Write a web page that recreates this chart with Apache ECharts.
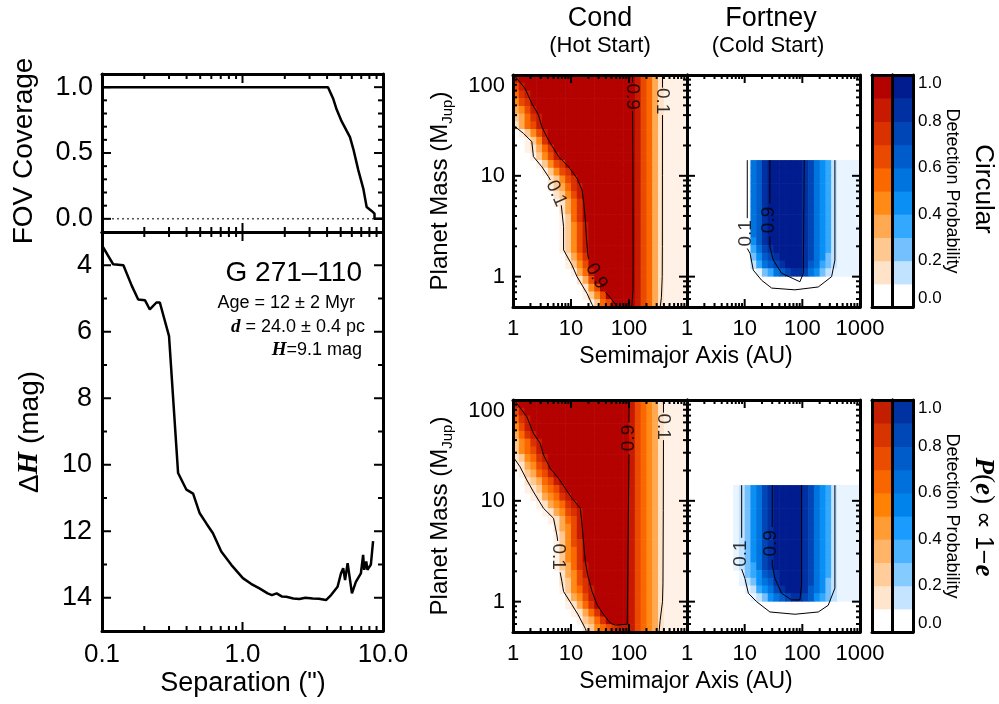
<!DOCTYPE html>
<html>
<head>
<meta charset="utf-8">
<script src="https://cdn.jsdelivr.net/npm/echarts@6/dist/echarts.min.js"></script>
<style>
  html, body { margin: 0; padding: 0; background: #fff; }
  #chart { width: 999px; height: 704px; }
</style>
</head>
<body>
<div id="chart"></div>
<script>
const SANS = '"Liberation Sans", Helvetica, Arial, sans-serif';
const SERIF = '"Liberation Serif", "Times New Roman", serif';

// ---------- Left column: field-of-view coverage and contrast curve ----------
const fovSeparation = [0.10, 4.06, 4.43, 4.68, 5.08, 5.82, 6.15, 6.67, 7.24, 7.65, 8.30, 8.70, 8.70, 10.0];
const fovCoverage   = [1.00, 1.00, 0.91, 0.83, 0.74, 0.62, 0.53, 0.37, 0.23, 0.09, 0.06, 0.04, 0.00, 0.00];

const contrastSeparation = [0.100, 0.120, 0.142, 0.163, 0.181, 0.202, 0.219, 0.244, 0.258, 0.300,
  0.348, 0.399, 0.445, 0.496, 0.556, 0.616, 0.706, 0.832, 1.006, 1.15, 1.32, 1.51, 1.62, 1.75, 1.90,
  2.05, 2.30, 2.54, 2.80, 3.16, 3.50, 3.93, 4.27, 4.75, 5.02, 5.21, 5.37, 5.60, 6.01, 6.41, 6.96,
  7.22, 7.35, 7.60, 7.75, 8.20, 8.50];
const contrastDeltaH = [3.40, 3.97, 4.00, 4.62, 5.03, 5.05, 5.33, 5.12, 5.12, 6.13,
  10.25, 10.75, 10.87, 11.46, 11.78, 12.06, 12.61, 13.01, 13.41, 13.58, 13.72, 13.87, 13.92, 13.87, 13.96,
  13.97, 14.02, 14.04, 14.00, 14.02, 14.03, 14.07, 13.92, 13.67, 13.27, 13.11, 13.47, 12.96, 13.87, 13.52, 13.27,
  12.71, 13.16, 12.91, 13.16, 13.00, 12.30];

const separationLabels = [0.1, 1, 10];
const separationMinorTicks = [0.2, 0.3, 0.4, 0.5, 0.6, 0.7, 0.8, 0.9, 2, 3, 4, 5, 6, 7, 8, 9];
const coverageLabels = [0, 0.5, 1];
const coverageMinorTicks = [0.1, 0.2, 0.3, 0.4, 0.6, 0.7, 0.8, 0.9];
const deltaHLabels = [4, 6, 8, 10, 12, 14];
const deltaHMinorTicks = [5, 7, 9, 11, 13];

// ---------- Right block: detection-probability maps ----------
// bin edges of the (semimajor axis, planet mass) grid
const semimajorEdgesAU = [1, 1.259, 1.585, 1.995, 2.512, 3.162, 3.981, 5.012, 6.310, 7.943,
  10, 12.59, 15.85, 19.95, 25.12, 31.62, 39.81, 50.12, 63.10, 79.43,
  100, 125.9, 158.5, 199.5, 251.2, 316.2, 398.1, 501.2, 631.0, 794.3, 1000];
const massEdgesMJup = [0.500, 0.597, 0.712, 0.849, 1.014, 1.209, 1.443, 1.722, 2.055, 2.452,
  2.925, 3.491, 4.165, 4.970, 5.930, 7.071, 8.437, 10.07, 12.01, 14.33,
  17.10, 20.41, 24.35, 29.05, 34.67, 41.36, 49.34, 58.87, 70.25, 83.82, 100];

const semimajorLabelsCond = [1, 10, 100];
const semimajorLabelsFortney = [1, 10, 100, 1000];
const semimajorMinorTicks = [2, 3, 4, 5, 6, 7, 8, 9, 20, 30, 40, 50, 60, 70, 80, 90, 200, 300, 400, 500, 600, 700, 800, 900];
const massLabels = [1, 10, 100];
const massMinorTicks = [0.6, 0.7, 0.8, 0.9, 2, 3, 4, 5, 6, 7, 8, 9, 20, 30, 40, 50, 60, 70, 80, 90];

// One string per mass bin (top row = highest mass), one character per semimajor-axis bin.
// '.' = no detection / no model, '0' = below 10 %, digit d = probability between d/10 and (d+1)/10.
// '|' only separates groups for readability.
const condCircular = [
  '8|99999|99999|99999|99999|865310000',
  '68|99999|99999|99999|9999|865310000',
  '578|99999|99999|99999|999|865310000',
  '467|99999|99999|99999|999|865310000',
  '3468|99999|99999|99999|99|865310000',
  '23578|99999|99999|99999|9|865310000',
  '13568|99999|99999|99999|9|865310000',
  '.02468|99999|99999|99999|865310000',
  '..0247|99999|99999|99999|865310000',
  '..01357|99999|99999|9999|865310000',
  '...02468|99999|99999|999|865310000',
  '....02467|99999|99999|99|865310000',
  '.....02467|99999|99999|9|865310000',
  '......12467|99999|99999|865310000',
  '......023578|99999|9999|865310000',
  '.......12468|99999|9999|865310000',
  '.......01357|99999|9999|865310000',
  '........1357|99999|9999|865310000',
  '........0257|99999|9999|865310000',
  '........02468|99999|999|865310000',
  '........02468|99999|999|865310000',
  '........02468|99999|999|865310000',
  '........02468|99999|999|865310000',
  '.........1357|99999|999|865310000',
  '.........0246|99999|999|865310000',
  '..........0358|99999|99|865310000',
  '...........136|99999|99|865310000',
  '............146|99999|9|865310000',
  '............0246|99999|865310000',
  '.............0256|9999|865310000'
];
const fortneyCircular = [
  '', '', '', '', '', '', '', '', '', '', '',
  '...........|56899|99998|75431|0000',
  '...........|56899|99998|75431|0000',
  '...........|56899|99998|75431|0000',
  '...........|56899|99998|75431|0000',
  '...........|56899|99998|75431|0000',
  '...........|56899|99998|75431|0000',
  '...........|56899|99998|75431|0000',
  '...........|56899|99998|75431|0000',
  '...........|56899|99998|75431|0000',
  '...........|56899|99998|75431|0000',
  '...........|46899|99998|75431|0000',
  '...........|35789|99998|75431|0000',
  '...........|24678|99998|75421|0000',
  '...........|13567|89998|65321|0000',
  '............|02356|78875|42100|000',
  '', '', ''
];
const condEccentric = [
  '8|99999|99999|99999|999|98654310000',
  '68|99999|99999|99999|99|98654310000',
  '578|99999|99999|99999|9|98654310000',
  '468|99999|99999|99999|9|98654310000',
  '3578|99999|99999|99999|98654310000',
  '24578|99999|99999|9999|98654310000',
  '24568|99999|99999|9999|98654310000',
  '124578|99999|99999|999|98654310000',
  '013467|99999|99999|999|98654310000',
  '.023568|99999|99999|99|98654310000',
  '..123568|99999|99999|9|98654310000',
  '..0124568|99999|99999|98654310000',
  '...0134578|99999|9999|98654310000',
  '....0134578|99999|999|98654310000',
  '.....0134678|99999|99|98654310000',
  '......013568|99999|99|98654310000',
  '.......13468|99999|99|98654310000',
  '.......02468|99999|99|98654310000',
  '.......02467|99999|99|98654310000',
  '.......02457|99999|99|98654310000',
  '.......02457|99999|99|98654310000',
  '.......023578|99999|9|98654310000',
  '........13468|99999|9|98654310000',
  '........12467|99999|9|98654310000',
  '........024578|99999|98654310000',
  '.........13468|99999|98654310000',
  '.........01357|99999|98654310000',
  '..........01357|9999|98654310000',
  '...........02357|999|98654310000',
  '............1245678|88654310000'
];
const fortneyEccentric = [
  '', '', '', '', '', '', '', '', '', '', '',
  '........|01245|78999|99875|43100|00',
  '........|01245|78999|99875|43100|00',
  '........|01245|78999|99875|43100|00',
  '........|01245|78999|99875|43100|00',
  '........|01245|78999|99875|43100|00',
  '........|01245|78999|99875|43100|00',
  '........|01245|78999|99875|43100|00',
  '........|01245|78999|99875|43100|00',
  '........|01245|78999|99875|43100|00',
  '........|01245|78999|99875|43100|00',
  '........|01235|78999|99875|43100|00',
  '.........|02346|78999|98754|31000|0',
  '.........|01245|68999|98754|21000|0',
  '..........|01345|78999|86542|10000',
  '...........|01245|67887|64321|0000',
  '', '', ''
];

// Contours: [semimajor axis (AU), mass (MJup)] points; a gap is left where the label sits.
const condCircularContours = [
  { level: '0.9', label: [27.4, 1.01], rotate: -61, segments: [
    [[1.05, 100], [1.16, 92.7], [1.61, 73.8], [2.11, 52.4], [2.75, 40.1], [3.14, 30.7], [4.09, 22.6], [6.10, 15.5],
     [9.09, 12.3], [12.7, 9.44], [15.5, 7.23], [16.6, 5.33], [17.7, 3.65], [18.4, 2.49], [19.4, 1.70], [20.0, 1.50]],
    [[39.3, 0.70], [42.1, 0.68], [51.3, 0.586], [58.6, 0.53], [63.0, 0.50]] ] },
  { level: '0.1', label: [5.56, 6.7], rotate: -66, segments: [
    [[1.0, 31.9], [1.51, 26.4], [2.11, 21.8], [2.25, 15.5], [3.14, 12.3], [4.09, 9.80], [4.4, 9.1]],
    [[6.8, 5.1], [6.98, 4.93], [7.45, 3.13], [7.45, 1.84], [10.4, 1.30], [12.7, 1.0], [18.9, 0.68], [23.1, 0.53], [24.5, 0.50]] ] },
  { level: '0.9', label: [115, 61], rotate: -90, segments: [
    [[115, 100], [115, 84]],
    [[115, 44], [116, 20], [117, 5], [118, 1.5], [117, 0.75], [112, 0.50]] ] },
  { level: '0.1', label: [378, 55], rotate: -90, segments: [
    [[378, 100], [378, 75]],
    [[378, 40], [377, 10], [376, 2], [374, 1.0], [362, 0.62], [345, 0.50]] ] }
];
const fortneyCircularContours = [
  { level: '0.1', label: [10.5, 2.69], rotate: 90, segments: [
    [[11.1, 14.3], [11.1, 3.8]],
    [[11.1, 1.9], [12.4, 1.70], [14.1, 1.16], [19.7, 0.92], [29.4, 0.77], [74.5, 0.74], [189, 0.79], [322, 1.0], [367, 1.46], [367, 14.3]] ] },
  { level: '0.9', label: [26.0, 3.65], rotate: 90, segments: [
    [[27.4, 14.3], [27.4, 5.3]],
    [[27.4, 2.5], [27.4, 1.98], [31.3, 1.46], [43.8, 1.08], [90.8, 0.89], [104, 1.08], [108, 14.3]] ] }
];
const condEccentricContours = [
  { level: '0.9', label: [100, 42], rotate: 90, segments: [
    [[1.05, 100], [1.16, 92.7], [1.73, 68.4], [2.25, 46.7], [2.94, 37.2], [3.36, 28.5], [4.38, 21.0], [6.10, 16.7],
     [7.96, 13.3], [10.4, 10.6], [14.5, 8.43], [15.5, 5.77], [16.6, 3.65], [17.7, 2.49], [19.4, 1.84], [23.1, 1.26],
     [28.2, 0.93], [36.8, 0.74], [48.0, 0.61], [58.6, 0.586], [93.3, 0.596], [100, 0.60], [100, 29]],
    [[100, 60], [100, 100]] ] },
  { level: '0.1', label: [6.1, 2.79], rotate: -90, segments: [
    [[1.0, 27.4], [1.32, 21.8], [1.73, 16.1], [2.25, 12.3], [3.36, 8.43], [5.0, 6.71], [5.71, 4.58], [5.9, 4.0]],
    [[6.5, 1.95], [6.97, 1.58], [7.45, 1.26], [10.4, 0.93], [13.3, 0.74], [17.7, 0.54], [18.5, 0.50]] ] },
  { level: '0.1', label: [393, 54.4], rotate: -90, segments: [
    [[393, 100], [393, 75]],
    [[393, 40], [390, 8], [385, 1.5], [378, 1.0], [344, 0.65], [330, 0.50]] ] }
];
const fortneyEccentricContours = [
  { level: '0.1', label: [8.5, 3.0], rotate: 90, segments: [
    [[8.87, 14.3], [8.87, 4.3]],
    [[8.87, 2.1], [10.1, 1.70], [11.6, 1.21], [16.1, 1.0], [27.4, 0.79], [74.5, 0.75], [189, 0.79], [281, 0.92], [367, 1.36], [367, 14.3]] ] },
  { level: '0.9', label: [28.0, 3.79], rotate: 90, segments: [
    [[30.1, 14.3], [30.1, 5.5]],
    [[30.1, 2.6], [30.1, 2.31], [33.5, 1.70], [43.8, 1.21], [65.2, 1.04], [90.8, 1.04], [97.2, 1.46], [97.2, 14.3]] ] }
];

// colour bar
const probabilityEdges = [0, 0.1, 0.2, 0.3, 0.4, 0.5, 0.6, 0.7, 0.8, 0.9, 1.0];
const probabilityLabels = [0, 0.2, 0.4, 0.6, 0.8, 1.0];

// ---------- styles ----------
const redBands = ['#ffffff', '#ffe3c8', '#ffc891', '#ffaa52', '#ff8a16', '#fb6800', '#ea4a00', '#d93200', '#c71a00', '#b30200'];
const blueBands = ['#ffffff', '#c2e3ff', '#74c0ff', '#33a8ff', '#0a90f5', '#0074de', '#005ccb', '#0046b6', '#0030a2', '#001c8e'];
const redBandsLower = ['#ffffff', '#ffe5cc', '#ffcc9a', '#ffb468', '#ff9c34', '#ff8204', '#f96600', '#ea4c00', '#d83400', '#c41e00'];
const blueBandsLower = ['#ffffff', '#c4e4ff', '#84ccff', '#4cb4ff', '#1a9cff', '#0084ec', '#0070dc', '#005cc9', '#0048b8', '#0032a2'];
const redCells = ['#fff1e6'].concat(redBands.slice(1));
const blueCells = ['#e8f4ff'].concat(blueBands.slice(1));

// ---------- builders ----------
const grids = [], xAxes = [], yAxes = [], series = [];

const AXIS_LINE = { show: true, onZero: false, lineStyle: { color: '#000', width: 3 } };
function axisBase(gi) {
  return { gridIndex: gi, z: 5, axisLine: AXIS_LINE, axisTick: { show: false },
    splitLine: { show: false }, minorTick: { show: false }, minorSplitLine: { show: false } };
}
function labelSpec(s) {
  if (!s || !s.labels) return { show: false };
  return Object.assign({ show: true, customValues: s.labels, color: '#000', fontFamily: SANS,
    fontSize: s.fontSize, margin: s.margin, formatter: s.formatter }, s.extra || {});
}
// A boxed panel: bottom/top x axes and left/right y axes, labels where requested.
function panel(rect, xs, ys) {
  const gi = grids.length;
  grids.push(Object.assign({ containLabel: false }, rect));
  const xi = xAxes.length, yi = yAxes.length;
  xAxes.push(Object.assign(axisBase(gi), { type: xs.type, min: xs.min, max: xs.max, position: 'bottom', axisLabel: labelSpec(xs) }));
  xAxes.push(Object.assign(axisBase(gi), { type: xs.type, min: xs.min, max: xs.max, position: 'top', axisLabel: { show: false } }));
  yAxes.push(Object.assign(axisBase(gi), { type: ys.type, min: ys.min, max: ys.max, inverse: !!ys.inverse, position: 'left',
    axisLabel: ys.right ? { show: false } : labelSpec(ys) }));
  yAxes.push(Object.assign(axisBase(gi), { type: ys.type, min: ys.min, max: ys.max, inverse: !!ys.inverse, position: 'right',
    axisLabel: ys.right ? labelSpec(ys) : { show: false } }));
  return { xi, yi };
}

// inward ticks on all four sides of a panel
function tickSeries(ax, ref, t) {
  const data = [];
  t.xMajor.forEach(v => data.push([v, ref[1], t.major, 0]));
  t.xMinor.forEach(v => data.push([v, ref[1], t.minor, 0]));
  t.yMajor.forEach(v => data.push([ref[0], v, t.major, 1]));
  t.yMinor.forEach(v => data.push([ref[0], v, t.minor, 1]));
  return {
    type: 'custom', xAxisIndex: ax.xi, yAxisIndex: ax.yi, z: 6, silent: true, clip: false,
    encode: { x: 0, y: 1 }, data,
    renderItem(params, api) {
      const cs = params.coordSys;
      const len = api.value(2);
      const p = api.coord([api.value(0), api.value(1)]);
      const st = { stroke: '#000', lineWidth: 2 };
      if (api.value(3) === 0) {
        const b = cs.y + cs.height, t0 = cs.y;
        return { type: 'group', children: [
          { type: 'line', shape: { x1: p[0], y1: b, x2: p[0], y2: b - len }, style: st },
          { type: 'line', shape: { x1: p[0], y1: t0, x2: p[0], y2: t0 + len }, style: st } ] };
      }
      const l = cs.x, r = cs.x + cs.width;
      return { type: 'group', children: [
        { type: 'line', shape: { x1: l, y1: p[1], x2: l + len, y2: p[1] }, style: st },
        { type: 'line', shape: { x1: r, y1: p[1], x2: r - len, y2: p[1] }, style: st } ] };
    }
  };
}

function rectRender(palette) {
  return function (params, api) {
    const p0 = api.coord([api.value(0), api.value(3)]);
    const p1 = api.coord([api.value(1), api.value(2)]);
    return { type: 'rect', shape: { x: p0[0], y: p0[1], width: p1[0] - p0[0] + 0.6, height: p1[1] - p0[1] + 0.6 },
      style: { fill: palette[api.value(4)] } };
  };
}

function mapCells(rows) {
  const cells = [];
  const nRows = massEdgesMJup.length - 1;
  rows.forEach((raw, r) => {
    const row = raw.replace(/\|/g, '');
    const k = nRows - 1 - r;
    for (let c = 0; c < row.length && c < semimajorEdgesAU.length - 1; c++) {
      const ch = row[c];
      if (ch < '0' || ch > '9') continue;
      cells.push([semimajorEdgesAU[c], semimajorEdgesAU[c + 1], massEdgesMJup[k], massEdgesMJup[k + 1], +ch]);
    }
  });
  return cells;
}

function heatSeries(ax, rows, palette) {
  return { type: 'custom', xAxisIndex: ax.xi, yAxisIndex: ax.yi, z: 2, silent: true, clip: true,
    encode: { x: [0, 1], y: [2, 3] }, data: mapCells(rows), renderItem: rectRender(palette) };
}

function contourSeries(ax, contours) {
  const out = [];
  contours.forEach(ct => {
    ct.segments.forEach(seg => out.push({
      type: 'line', xAxisIndex: ax.xi, yAxisIndex: ax.yi, data: seg, symbol: 'none', showSymbol: false,
      lineStyle: { color: '#000', width: 1 }, z: 3, silent: true, clip: true
    }));
    out.push({
      type: 'scatter', xAxisIndex: ax.xi, yAxisIndex: ax.yi, data: [ct.label], symbolSize: 1,
      itemStyle: { color: 'rgba(0,0,0,0)' }, z: 4, silent: true,
      label: { show: true, position: 'inside', formatter: ct.level, rotate: ct.rotate,
        fontSize: 19, color: '#000', fontFamily: SANS }
    });
  });
  return out;
}

function colorbarSeries(ax, palette) {
  const data = probabilityEdges.slice(0, -1).map((lo, i) => [0, 1, lo, probabilityEdges[i + 1], i]);
  return { type: 'custom', xAxisIndex: ax.xi, yAxisIndex: ax.yi, z: 2, silent: true, clip: true,
    encode: { x: [0, 1], y: [2, 3] }, data, renderItem: rectRender(palette) };
}

const zip = (a, b) => a.map((v, i) => [v, b[i]]);
const fix1 = v => v.toFixed(1);
const plain = v => String(v);

// ---------- left column ----------
const fovAx = panel({ left: 102, top: 74, width: 281, height: 158 },
  { type: 'log', min: 0.1, max: 10 },
  { type: 'value', min: -0.1, max: 1.1, labels: coverageLabels, formatter: fix1, fontSize: 27, margin: 9 });
const dhAx = panel({ left: 102, top: 232, width: 281, height: 399 },
  { type: 'log', min: 0.1, max: 10, labels: separationLabels, formatter: fix1, fontSize: 26, margin: 11 },
  { type: 'value', min: 3, max: 15, inverse: true, labels: deltaHLabels, formatter: plain, fontSize: 27, margin: 10 });

series.push({ type: 'line', xAxisIndex: fovAx.xi, yAxisIndex: fovAx.yi, data: [[0.1, 0], [10, 0]], symbol: 'none',
  lineStyle: { color: '#000', width: 1, type: [2, 3] }, z: 3, silent: true });
series.push({ type: 'line', xAxisIndex: fovAx.xi, yAxisIndex: fovAx.yi, data: zip(fovSeparation, fovCoverage),
  symbol: 'none', lineStyle: { color: '#000', width: 2.5 }, z: 4, silent: true });
series.push({ type: 'line', xAxisIndex: dhAx.xi, yAxisIndex: dhAx.yi, data: zip(contrastSeparation, contrastDeltaH),
  symbol: 'none', lineStyle: { color: '#000', width: 2.5 }, z: 4, silent: true });

series.push(tickSeries(fovAx, [1, 0.5], { xMajor: [1], xMinor: separationMinorTicks, yMajor: coverageLabels,
  yMinor: coverageMinorTicks, major: 9, minor: 5 }));
series.push(tickSeries(dhAx, [1, 8], { xMajor: [1], xMinor: separationMinorTicks, yMajor: deltaHLabels,
  yMinor: deltaHMinorTicks, major: 9, minor: 5 }));

// ---------- maps ----------
const mapX = labels => ({ type: 'log', min: 1, max: 1000, labels, formatter: plain, fontSize: 22, margin: 11 });
const mapYLabeled = { type: 'log', min: 0.5, max: 100, labels: massLabels, formatter: plain, fontSize: 22, margin: 8,
  extra: { verticalAlignMaxLabel: 'top' } };
const mapYPlain = { type: 'log', min: 0.5, max: 100 };
const mapTicks = { xMajor: [10, 100], xMinor: semimajorMinorTicks, yMajor: [1, 10], yMinor: massMinorTicks, major: 8, minor: 4 };

const rows = [
  { top: 75, cond: condCircular, fort: fortneyCircular, condC: condCircularContours, fortC: fortneyCircularContours,
    red: redBands, blue: blueBands },
  { top: 400, cond: condEccentric, fort: fortneyEccentric, condC: condEccentricContours, fortC: fortneyEccentricContours,
    red: redBandsLower, blue: blueBandsLower }
];
rows.forEach(rw => {
  const condAx = panel({ left: 513, top: rw.top, width: 174, height: 232 }, mapX(semimajorLabelsCond), mapYLabeled);
  const fortAx = panel({ left: 687, top: rw.top, width: 173, height: 232 }, mapX(semimajorLabelsFortney), mapYPlain);
  series.push(heatSeries(condAx, rw.cond, redCells));
  series.push(heatSeries(fortAx, rw.fort, blueCells));
  contourSeries(condAx, rw.condC).forEach(s => series.push(s));
  contourSeries(fortAx, rw.fortC).forEach(s => series.push(s));
  series.push(tickSeries(condAx, [10, 1], mapTicks));
  series.push(tickSeries(fortAx, [10, 1], mapTicks));

  const cbRed = panel({ left: 872, top: rw.top, width: 20, height: 232 },
    { type: 'value', min: 0, max: 1 }, { type: 'value', min: 0, max: 1 });
  const cbBlue = panel({ left: 892, top: rw.top, width: 21, height: 232 },
    { type: 'value', min: 0, max: 1 },
    { type: 'value', min: 0, max: 1, right: true, labels: probabilityLabels, formatter: fix1, fontSize: 17, margin: 5,
      extra: { verticalAlignMinLabel: 'bottom', verticalAlignMaxLabel: 'top' } });
  series.push(colorbarSeries(cbRed, rw.red));
  series.push(colorbarSeries(cbBlue, rw.blue));
});

// ---------- text ----------
const txt = (x, y, style, rotation) => ({ type: 'text', x, y, rotation: rotation || 0, z: 10, silent: true,
  style: Object.assign({ fill: '#000', fontFamily: SANS, align: 'center', verticalAlign: 'middle' }, style) });
const bi = size => ({ fontFamily: SERIF, fontStyle: 'italic', fontWeight: 'bold', fontSize: size, fill: '#000' });
const rg = size => ({ fontFamily: SANS, fontSize: size, fill: '#000' });

const graphic = [
  txt(24, 151, { text: 'FOV Coverage', fontSize: 28 }, Math.PI / 2),
  txt(30, 432, { text: '{n|Δ}{i|H}{n| (mag)}', rich: { n: rg(28), i: bi(29) } }, Math.PI / 2),
  txt(243, 684, { text: 'Separation (")', fontSize: 27 }),
  txt(362, 273, { text: 'G 271–110', fontSize: 28, align: 'right' }),
  txt(355, 303, { text: 'Age = 12 ± 2 Myr', fontSize: 18, align: 'right' }),
  txt(365, 327, { text: '{i|d}{n| = 24.0 ± 0.4 pc}', align: 'right', rich: { n: rg(18), i: bi(19) } }),
  txt(362, 350, { text: '{i|H}{n|=9.1 mag}', align: 'right', rich: { n: rg(18), i: bi(19) } }),
  txt(600, 19, { text: 'Cond', fontSize: 27 }),
  txt(600, 46, { text: '(Hot Start)', fontSize: 22 }),
  txt(771, 19, { text: 'Fortney', fontSize: 27 }),
  txt(768, 46, { text: '(Cold Start)', fontSize: 22 }),
  txt(983, 189, { text: 'Circular', fontSize: 26 }, -Math.PI / 2),
  txt(983, 517, { text: '{i|P}{r|(}{i|e}{r|)}{n| ∝ 1−}{i|e}',
    rich: { n: rg(25), i: bi(27), r: { fontFamily: SERIF, fontSize: 27, fill: '#000' } } }, -Math.PI / 2)
];
[75, 400].forEach(top => {
  graphic.push(txt(440, top + 116, { text: '{n|Planet Mass (M}{s|Jup}{n|)}',
    rich: { n: Object.assign(rg(24), { lineHeight: 30 }), s: Object.assign(rg(15), { lineHeight: 15, verticalAlign: 'bottom' }) } },
    Math.PI / 2));
  graphic.push(txt(686, top + 282, { text: 'Semimajor Axis (AU)', fontSize: 23 }));
  graphic.push(txt(952, top + 116, { text: 'Detection Probability', fontSize: 18 }, -Math.PI / 2));
});

const chart = echarts.init(document.getElementById('chart'), null, { renderer: 'canvas' });
chart.setOption({
  animation: false,
  backgroundColor: '#fff',
  textStyle: { fontFamily: SANS },
  grid: grids,
  xAxis: xAxes,
  yAxis: yAxes,
  series,
  graphic
});
</script>
</body>
</html>
